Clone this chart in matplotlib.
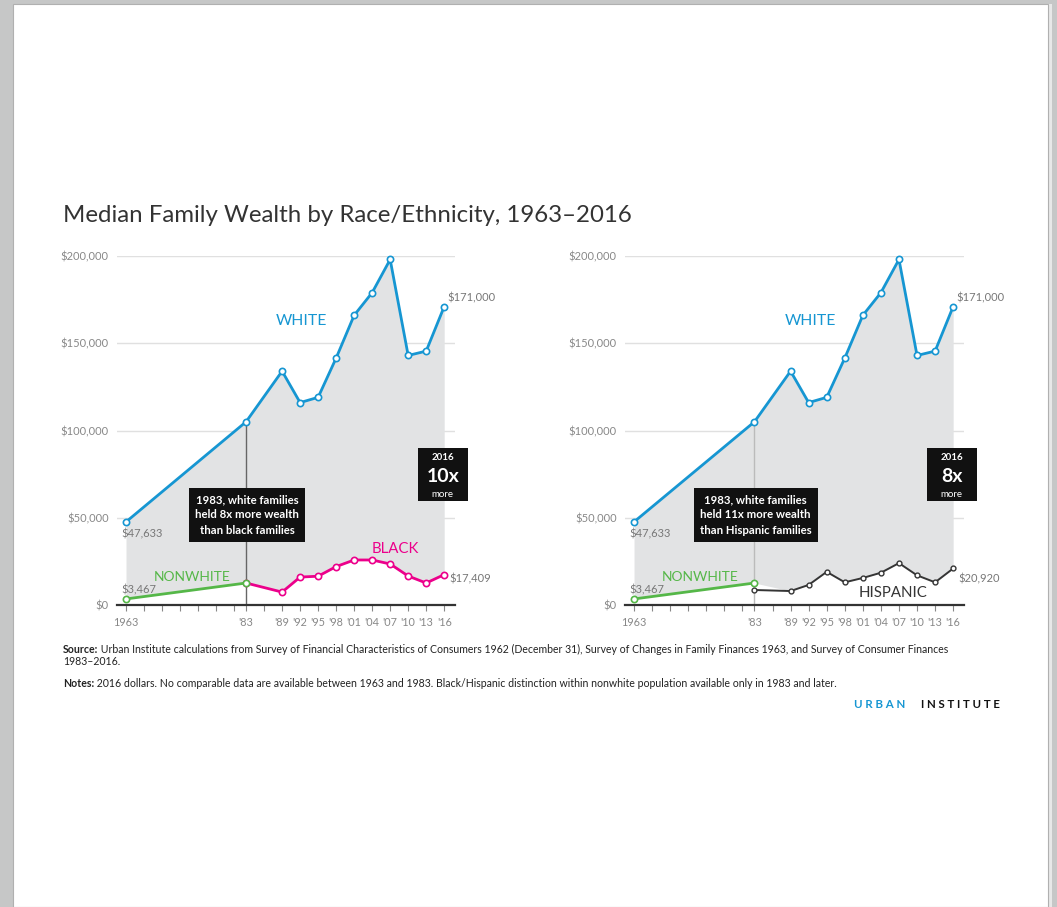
import matplotlib.pyplot as plt
from matplotlib.patches import Rectangle
import numpy as np

plt.rcParams['font.family'] = ['Lato', 'DejaVu Sans']

# data (2016 dollars)
years_white = [1963, 1983, 1989, 1992, 1995, 1998, 2001, 2004, 2007, 2010, 2013, 2016]
white = [47633, 105000, 134000, 116000, 119000, 141500, 166000, 179000, 198000, 143000, 145500, 171000]
years_nonwhite = [1963, 1983]
nonwhite = [3467, 12600]
years_minor = [1983, 1989, 1992, 1995, 1998, 2001, 2004, 2007, 2010, 2013, 2016]
black = [12600, 7400, 16000, 16500, 22000, 25800, 25800, 23500, 16600, 12600, 17409]
hispanic = [8600, 8000, 11500, 19000, 13000, 15500, 18500, 24000, 17000, 13000, 20920]

tick_years = [1963, 1983, 1989, 1992, 1995, 1998, 2001, 2004, 2007, 2010, 2013, 2016]
tick_labels = ['1963', "'83", "'89", "'92", "'95", "'98", "'01", "'04", "'07", "'10", "'13", "'16"]
y_ticks = [0, 50000, 100000, 150000, 200000]
y_labels = ['$0', '$50,000', '$100,000', '$150,000', '$200,000']

BLUE = '#1696d2'
GREEN = '#55b748'
PINK = '#ec008b'
DARK = '#353535'
FILL = '#e2e3e4'

fig = plt.figure(figsize=(10.57, 9.07), dpi=100)
fig.patch.set_facecolor('#c6c7c7')
# page
fig.patches.append(Rectangle((1048 / 1057, 0), 4 / 1057, 1 - 4 / 907, transform=fig.transFigure,
                             facecolor='#e8e8e8', edgecolor='none', zorder=-2))
fig.patches.append(Rectangle((13 / 1057, 0), 1035 / 1057, 1 - 4 / 907, transform=fig.transFigure,
                             facecolor='white', edgecolor='#b0b0b0', lw=0.8, zorder=-1))


def panel(ax, minority, minority_color, minority_name, name_pos, last_label, box_text, ratio, vline_color):
    ax.set_xlim(1961.5, 2017.8)
    ax.set_ylim(0, 200000)
    ax.set_facecolor('none')
    for s in ['top', 'right', 'left']:
        ax.spines[s].set_visible(False)
    ax.spines['bottom'].set_color('#333333')
    ax.spines['bottom'].set_linewidth(1.6)
    ax.set_yticks(y_ticks)
    ax.set_yticklabels(y_labels, fontsize=8, color='#888888')
    ax.tick_params(axis='y', length=0, pad=6)
    ax.set_xticks(tick_years)
    ax.set_xticklabels(tick_labels, fontsize=7.8, color='#888888')
    ax.set_xticks(list(range(1966, 1983, 3)) + [1986], minor=True)
    ax.tick_params(axis='x', which='both', length=4, width=0.8, color='#888888', pad=5)
    for v in y_ticks[1:]:
        ax.axhline(v, color='#e0e0e0', lw=1, zorder=0)

    # gray area between white and lower series
    lower_years = years_nonwhite + years_minor[1:]
    lower_vals = nonwhite + minority[1:]
    lower = np.interp(years_white, lower_years, lower_vals)
    ax.fill_between(years_white, lower, white, color=FILL, lw=0, zorder=1)

    ax.plot([1983, 1983], [0, white[1]], color=vline_color, lw=1, zorder=2)

    mk = dict(marker='o', markersize=4.5, markerfacecolor='white', markeredgewidth=1.2, clip_on=False)
    ax.plot(years_white, white, color=BLUE, lw=2, zorder=4, **mk)
    ax.plot(years_nonwhite, nonwhite, color=GREEN, lw=2, zorder=4, **mk)
    if minority_color == PINK:
        ax.plot(years_minor, minority, color=minority_color, lw=2, zorder=3, **mk)
    else:
        ax.plot(years_minor, minority, color=minority_color, lw=1.4, zorder=3, marker='o',
                markersize=3.5, markerfacecolor='white', markeredgewidth=1.0)

    ax.text(1992.3, 163000, 'WHITE', color=BLUE, fontsize=11.3, ha='center', va='center')
    ax.text(1974, 16000, 'NONWHITE', color=GREEN, fontsize=10, ha='center', va='center')
    ax.text(name_pos[0], name_pos[1], minority_name, color=minority_color, fontsize=10.8,
            ha='center', va='center')

    lab = dict(fontsize=8, color='#777777', va='center')
    ax.text(2016.6, 176000, '$171,000', ha='left', **lab)
    ax.text(2016.9, 15000, last_label, ha='left', **lab)
    ax.text(1962.3, 41000, '$47,633', ha='left', **lab)
    ax.text(1962.3, 8800, '$3,467', ha='left', **lab)

    ax.text(1983.2, 51600, box_text, color='white', fontsize=8.2, fontweight='bold', ha='center',
            va='center', linespacing=1.45, zorder=6,
            bbox=dict(boxstyle='square,pad=0.55', facecolor='#111111', edgecolor='none'))

    ax.add_patch(Rectangle((2011.6, 59600), 8.3, 30400, facecolor='#111111', edgecolor='none',
                           clip_on=False, zorder=6))
    ax.text(2015.75, 84500, '2016', color='white', fontsize=7, fontweight='bold', ha='center',
            va='center', zorder=7)
    ax.text(2015.75, 73500, ratio, color='white', fontsize=14, fontweight='bold', ha='center',
            va='center', zorder=7)
    ax.text(2015.75, 63500, 'more', color='white', fontsize=7, ha='center', va='center', zorder=7)


ax1 = fig.add_axes([117 / 1057, 302 / 907, 338 / 1057, 349 / 907])
panel(ax1, black, PINK, 'BLACK', (2007.8, 32000), '$17,409',
      '1983, white families\nheld 8x more wealth\nthan black families', '10x', '#666666')

ax2 = fig.add_axes([625 / 1057, 302 / 907, 339 / 1057, 349 / 907])
panel(ax2, hispanic, DARK, 'HISPANIC', (2006, 6900), '$20,920',
      '1983, white families\nheld 11x more wealth\nthan Hispanic families', '8x', '#bbbbbb')

fig.text(63 / 1057, 1 - 222 / 907, 'Median Family Wealth by Race/Ethnicity, 1963\u20132016',
         fontsize=17.3, color='#333333', va='baseline')

# footer: bold lead-in, normal text continues right after it
src = fig.text(63 / 1057, 1 - 653 / 907, 'Source:', fontsize=7.6, fontweight='bold',
               color='#222222', va='baseline')
plt.annotate(' Urban Institute calculations from Survey of Financial Characteristics of Consumers 1962 '
             '(December 31), Survey of Changes in Family Finances 1963, and Survey of Consumer Finances',
             xy=(1, 0), xycoords=src, fontsize=7.6, color='#222222', va='bottom', annotation_clip=False)
fig.text(63 / 1057, 1 - 665 / 907, '1983\u20132016.', fontsize=7.6, color='#222222', va='baseline')

notes = fig.text(63 / 1057, 1 - 687 / 907, 'Notes:', fontsize=7.6, fontweight='bold',
                 color='#222222', va='baseline')
plt.annotate(' 2016 dollars. No comparable data are available between 1963 and 1983. '
             'Black/Hispanic distinction within nonwhite population available only in 1983 and later.',
             xy=(1, 0), xycoords=notes, fontsize=7.6, color='#222222', va='bottom', annotation_clip=False)

fig.text(905 / 1057, 1 - 704 / 907, 'U R B A N', fontsize=8.3, fontweight='bold', color=BLUE,
         va='center', ha='right')
fig.text(1000 / 1057, 1 - 704 / 907, 'I N S T I T U T E', fontsize=8.3, fontweight='bold',
         color='#111111', va='center', ha='right')

fig.savefig('out.png', dpi=100, facecolor=fig.get_facecolor())
